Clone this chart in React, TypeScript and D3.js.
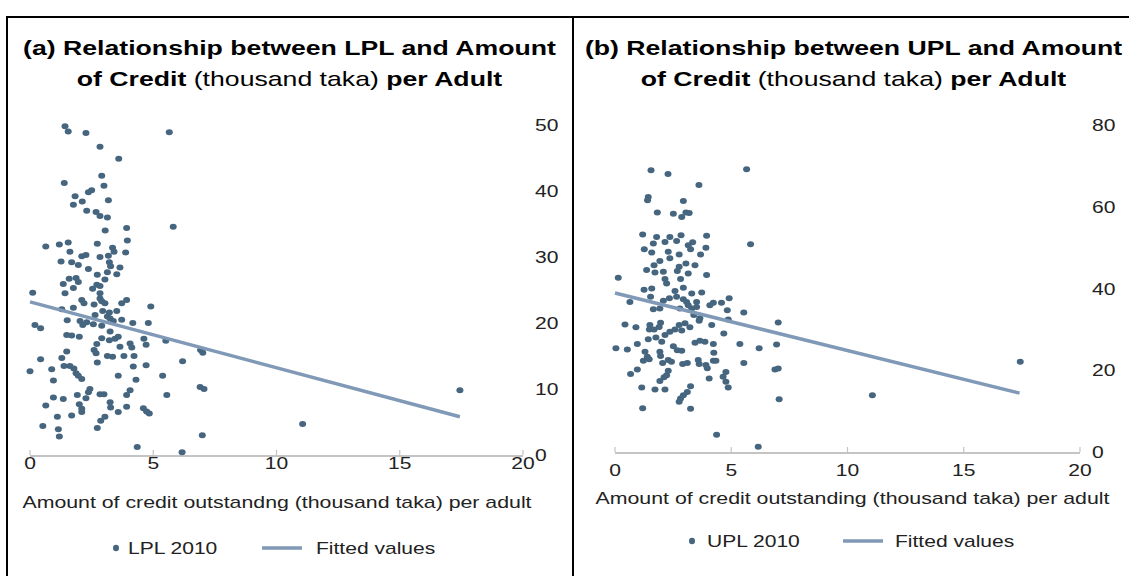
import React from "react";
import * as d3 from "d3";

// LPL 2010 vs credit outstanding per adult (thousand taka)
const lplPoints: [number, number][] = [
  [1.42, 49.8], [1.55, 49.0], [2.27, 48.8], [5.65, 48.9], [2.84, 46.7], [3.6, 44.9],
  [2.91, 42.3], [1.39, 41.2], [3.0, 40.8], [2.37, 39.8], [2.5, 40.1], [1.83, 39.2],
  [2.12, 38.4], [3.18, 38.6], [1.76, 37.9], [2.3, 37.0], [2.68, 36.8], [2.84, 36.2],
  [3.14, 36.0], [3.05, 34.0], [3.92, 34.4], [5.81, 34.6], [3.95, 32.5], [0.64, 31.6],
  [1.19, 31.9], [1.55, 32.2], [2.73, 32.0], [3.35, 31.4], [3.41, 30.8], [1.62, 30.8],
  [3.88, 30.7], [2.1, 30.1], [2.27, 30.3], [2.84, 30.0], [3.18, 30.2], [1.26, 29.3],
  [1.69, 29.2], [1.96, 28.8], [3.22, 29.2], [3.27, 28.6], [3.65, 28.4], [2.37, 28.2],
  [3.14, 27.7], [3.52, 27.4], [2.73, 27.3], [3.04, 26.6], [1.59, 26.7], [1.87, 26.8],
  [1.96, 26.2], [1.35, 25.9], [1.76, 25.3], [2.71, 25.8], [2.84, 25.6], [2.54, 25.2],
  [0.11, 24.6], [1.42, 24.5], [2.84, 24.5], [2.84, 23.7], [2.91, 23.3], [2.1, 23.5],
  [2.19, 23.0], [1.76, 22.3], [1.29, 22.1], [2.6, 22.8], [3.04, 23.0], [3.72, 23.0],
  [3.92, 23.5], [4.9, 22.5], [2.95, 21.8], [3.22, 21.6], [3.52, 21.8], [2.64, 21.2],
  [3.14, 21.0], [3.25, 20.7], [1.51, 20.4], [2.03, 20.3], [2.3, 20.1], [2.57, 19.8],
  [2.91, 19.6], [3.38, 20.3], [3.72, 20.5], [4.17, 20.0], [4.8, 20.0], [0.2, 19.7],
  [0.43, 19.2], [2.14, 19.7], [3.25, 18.7], [1.49, 18.2], [1.69, 18.1], [2.0, 17.9],
  [2.91, 17.7], [3.22, 17.4], [3.58, 17.9], [3.45, 17.6], [4.06, 16.9], [4.62, 17.6],
  [4.71, 16.7], [5.51, 17.3], [2.71, 16.8], [3.65, 16.4], [4.13, 16.3], [2.6, 15.9],
  [2.68, 15.4], [1.49, 15.7], [3.14, 15.0], [3.35, 14.9], [3.81, 15.0], [4.22, 15.0],
  [0.43, 14.5], [1.29, 14.7], [2.73, 14.0], [6.19, 14.2], [1.38, 13.5], [1.62, 13.5],
  [1.78, 13.1], [4.19, 13.4], [4.71, 13.6], [0.88, 13.0], [0.0, 12.7], [1.87, 12.4],
  [1.96, 12.0], [2.1, 11.5], [3.58, 12.0], [5.38, 12.0], [0.95, 11.3], [4.3, 11.4],
  [2.43, 10.0], [2.37, 9.5], [2.84, 9.2], [3.0, 9.2], [4.06, 9.8], [3.92, 9.1],
  [5.55, 9.1], [1.92, 9.1], [0.95, 8.7], [1.35, 8.5], [2.27, 8.6], [2.0, 7.7],
  [3.25, 8.0], [3.27, 7.2], [0.64, 7.5], [2.1, 7.0], [2.1, 6.5], [3.92, 7.3],
  [4.6, 7.1], [4.73, 6.6], [4.84, 6.3], [3.58, 6.5], [1.11, 5.8], [1.69, 6.0],
  [3.04, 5.8], [2.87, 5.2], [0.52, 4.4], [1.15, 3.9], [2.73, 4.1], [1.19, 2.8],
  [4.35, 1.2], [6.17, 0.4], [6.92, 15.9], [7.01, 15.5], [6.9, 10.3], [7.06, 10.0],
  [6.99, 3.0], [11.06, 4.7], [17.44, 9.8],
];

// UPL 2010 vs credit outstanding per adult (thousand taka)
const uplPoints: [number, number][] = [
  [1.55, 68.9], [2.28, 68.0], [5.66, 69.2], [3.61, 65.3], [1.43, 62.4], [1.4, 61.6],
  [2.94, 61.4], [1.82, 58.6], [2.51, 58.3], [2.87, 57.5], [3.05, 58.6], [3.19, 58.5],
  [1.19, 53.2], [1.79, 52.6], [2.36, 52.6], [2.84, 53.0], [3.94, 52.9], [1.65, 51.0],
  [2.15, 51.4], [2.65, 51.6], [3.34, 51.3], [3.15, 50.6], [5.83, 50.8], [1.26, 49.6],
  [1.58, 48.8], [2.29, 49.0], [2.76, 48.3], [3.25, 49.6], [3.91, 50.0], [3.68, 48.3],
  [2.36, 47.4], [1.93, 46.7], [1.68, 45.7], [3.05, 46.1], [3.44, 45.7], [2.76, 45.3],
  [1.36, 44.5], [1.72, 43.9], [2.68, 44.3], [3.15, 43.7], [2.08, 44.1], [3.94, 43.3],
  [0.14, 42.6], [2.15, 42.3], [2.82, 42.3], [2.22, 41.2], [1.25, 39.7], [1.58, 40.0],
  [2.94, 40.2], [2.58, 39.4], [3.3, 38.8], [3.73, 39.0], [1.53, 38.0], [2.34, 37.6],
  [2.65, 38.0], [2.94, 37.4], [3.51, 36.7], [4.23, 36.5], [4.58, 36.5], [4.91, 37.6],
  [2.08, 37.0], [3.08, 36.7], [0.64, 36.7], [1.65, 34.9], [1.93, 35.1], [2.79, 35.1],
  [3.15, 35.9], [3.3, 35.1], [3.51, 35.5], [4.08, 35.9], [4.83, 34.7], [5.54, 34.1],
  [3.39, 33.5], [3.65, 32.7], [3.62, 32.1], [4.16, 31.1], [4.87, 32.4], [0.43, 31.2],
  [0.9, 30.5], [1.5, 31.1], [1.48, 30.0], [1.68, 30.0], [1.96, 31.6], [1.9, 30.6],
  [2.58, 30.0], [2.76, 31.1], [3.01, 31.5], [3.22, 30.5], [2.87, 29.7], [2.36, 29.4],
  [2.15, 28.6], [4.68, 29.0], [1.43, 27.6], [1.76, 28.0], [2.01, 27.0], [0.96, 26.4],
  [0.04, 25.4], [0.53, 25.1], [2.51, 25.9], [2.68, 24.9], [2.87, 24.8], [3.44, 26.7],
  [3.65, 27.2], [3.87, 27.0], [4.23, 26.4], [4.25, 24.3], [5.37, 26.4], [6.2, 25.4],
  [1.29, 24.5], [1.39, 23.3], [1.22, 22.3], [1.47, 22.7], [1.93, 24.5], [1.96, 23.5],
  [2.05, 21.8], [2.29, 22.5], [2.43, 22.1], [2.91, 21.5], [3.11, 21.8], [3.58, 22.5],
  [3.62, 21.5], [3.91, 21.3], [3.97, 20.5], [4.23, 22.3], [4.34, 22.3], [5.54, 21.8],
  [0.96, 20.2], [0.67, 19.1], [2.29, 19.9], [2.22, 18.8], [2.11, 18.3], [1.93, 17.4],
  [4.05, 18.0], [4.77, 19.6], [4.65, 18.4], [4.77, 17.2], [4.87, 15.8], [1.15, 15.8],
  [1.72, 15.3], [2.15, 15.3], [3.25, 16.1], [3.11, 14.7], [2.94, 13.9], [2.82, 13.1],
  [2.76, 12.3], [1.19, 10.7], [3.25, 10.6], [4.37, 4.2], [6.16, 1.3], [7.02, 31.7],
  [6.95, 26.3], [6.88, 20.2], [7.02, 20.4], [7.06, 12.9], [11.07, 13.9], [17.43, 22.1],
];

// fitted line end points
const lplFit: [number, number][] = [[0, 23.2], [17.44, 5.8]];
const uplFit: [number, number][] = [[0, 38.9], [17.4, 14.4]];

const xTicks = [0, 5, 10, 15, 20];
const lplYTicks = [0, 10, 20, 30, 40, 50];
const uplYTicks = [0, 20, 40, 60, 80];

const DOT = "#46657f";
const FIT = "#7f99b6";
const AXIS = "#c4c4c4";
const FONT = "'Liberation Sans', Arial, sans-serif";
const SX = 1.3; // source picture is stretched horizontally

const SText = ({ x, y, size, anchor = "start", weight = "normal", fill = "#1a1a1a", children }: any) => (
  <g transform={`translate(${x},${y}) scale(${SX},1)`}>
    <text fontSize={size} textAnchor={anchor} fontWeight={weight} fontFamily={FONT} fill={fill}>
      {children}
    </text>
  </g>
);

interface PanelProps {
  id: string;
  points: [number, number][];
  fit: [number, number][];
  yTicks: number[];
  yMax: number;
  xRange: [number, number];
  yRange: [number, number];
  yLabelX: number;
  clipRight: number;
  xLabelY: number;
  axisTitleY: number;
  titleX: number;
  titleCenter: number;
  letter: string;
  series: string;
  axisTitle: string;
  legendY: number;
  legendX: number[];
}

const Panel = (p: PanelProps) => {
  const x = d3.scaleLinear().domain([0, 20]).range(p.xRange);
  const y = d3.scaleLinear().domain([0, p.yMax]).range(p.yRange);
  const line = d3.line<[number, number]>().x((d) => x(d[0])).y((d) => y(d[1]));
  const [dotX, txtX, lineX0, lineX1, fitTxtX] = p.legendX;

  return (
    <g>
      {/* title */}
      <SText x={p.titleCenter} y={55} size={20.5} anchor="middle" weight="bold" fill="#000">
        {`(${p.letter}) Relationship between ${p.series} and Amount`}
      </SText>
      <SText x={p.titleCenter} y={86} size={20.5} anchor="middle" fill="#000">
        <tspan fontWeight="bold">of Credit </tspan>
        <tspan>(thousand taka)</tspan>
        <tspan fontWeight="bold"> per Adult</tspan>
      </SText>

      {/* x axis */}
      <line x1={x(0)} x2={x(20)} y1={p.yRange[0] + 1} y2={p.yRange[0] + 1} stroke={AXIS} strokeWidth={2} />
      {xTicks.map((t) => (
        <g key={t}>
          <line x1={x(t)} x2={x(t)} y1={p.yRange[0]} y2={p.yRange[0] - 5} stroke={AXIS} strokeWidth={1.2} />
          <SText x={x(t)} y={p.xLabelY} size={16.2} anchor="middle" fill="#222">
            {t}
          </SText>
        </g>
      ))}
      <SText x={p.titleX} y={p.axisTitleY} size={16.4} anchor="middle" fill="#222">
        {p.axisTitle}
      </SText>

      {/* y labels on right, clipped like the source */}
      <defs>
        <clipPath id={`clip-${p.id}`}>
          <rect x={p.yLabelX - 5} y={100} width={p.clipRight - p.yLabelX + 5} height={380} />
        </clipPath>
      </defs>
      <g clipPath={`url(#clip-${p.id})`}>
        {p.yTicks.map((t) => (
          <SText key={t} x={p.yLabelX} y={y(t) + 6} size={16.2} fill="#222">
            {t}
          </SText>
        ))}
      </g>

      {/* points */}
      {p.points.map((d, i) => (
        <ellipse key={i} cx={x(d[0])} cy={y(d[1])} rx={3.5} ry={3} fill={DOT} />
      ))}

      {/* fitted line */}
      <path d={line(p.fit) || ""} fill="none" stroke={FIT} strokeWidth={3.5} />

      {/* legend */}
      <ellipse cx={dotX} cy={p.legendY} rx={3} ry={3.3} fill={DOT} />
      <SText x={txtX} y={p.legendY + 6} size={16.2} fill="#222">
        {`${p.series} 2010`}
      </SText>
      <line x1={lineX0} x2={lineX1} y1={p.legendY} y2={p.legendY} stroke={FIT} strokeWidth={3.5} />
      <SText x={fitTxtX} y={p.legendY + 6} size={16.2} fill="#222">
        Fitted values
      </SText>
    </g>
  );
};

export default function App() {
  return (
    <div style={{ position: "absolute", left: 0, top: 0 }}>
      <svg width={1129} height={576} style={{ display: "block", background: "#fff" }}>
        <rect width={1129} height={576} fill="#fff" />
        {/* table frame */}
        <line x1={6} x2={1129} y1={17} y2={17} stroke="#000" strokeWidth={2} />
        <line x1={7} x2={7} y1={16} y2={576} stroke="#000" strokeWidth={2} />
        <line x1={573} x2={573} y1={16} y2={576} stroke="#000" strokeWidth={2} />

        <Panel
          id="a"
          letter="a"
          series="LPL"
          points={lplPoints}
          fit={lplFit}
          yTicks={lplYTicks}
          yMax={50}
          xRange={[30, 523]}
          yRange={[455, 125]}
          yLabelX={535}
          clipRight={558}
          xLabelY={469}
          axisTitleY={508}
          titleX={277}
          titleCenter={289.5}
          axisTitle="Amount of credit outstandng (thousand taka) per adult"
          legendY={548}
          legendX={[116, 128, 262, 302, 316]}
        />
        <Panel
          id="b"
          letter="b"
          series="UPL"
          points={uplPoints}
          fit={uplFit}
          yTicks={uplYTicks}
          yMax={80}
          xRange={[615, 1080]}
          yRange={[452, 125]}
          yLabelX={1092}
          clipRight={1115}
          xLabelY={476}
          axisTitleY={504}
          titleX={852.5}
          titleCenter={853.5}
          axisTitle="Amount of credit outstanding (thousand taka) per adult"
          legendY={541}
          legendX={[692, 707, 843, 883, 895]}
        />
      </svg>
    </div>
  );
}
